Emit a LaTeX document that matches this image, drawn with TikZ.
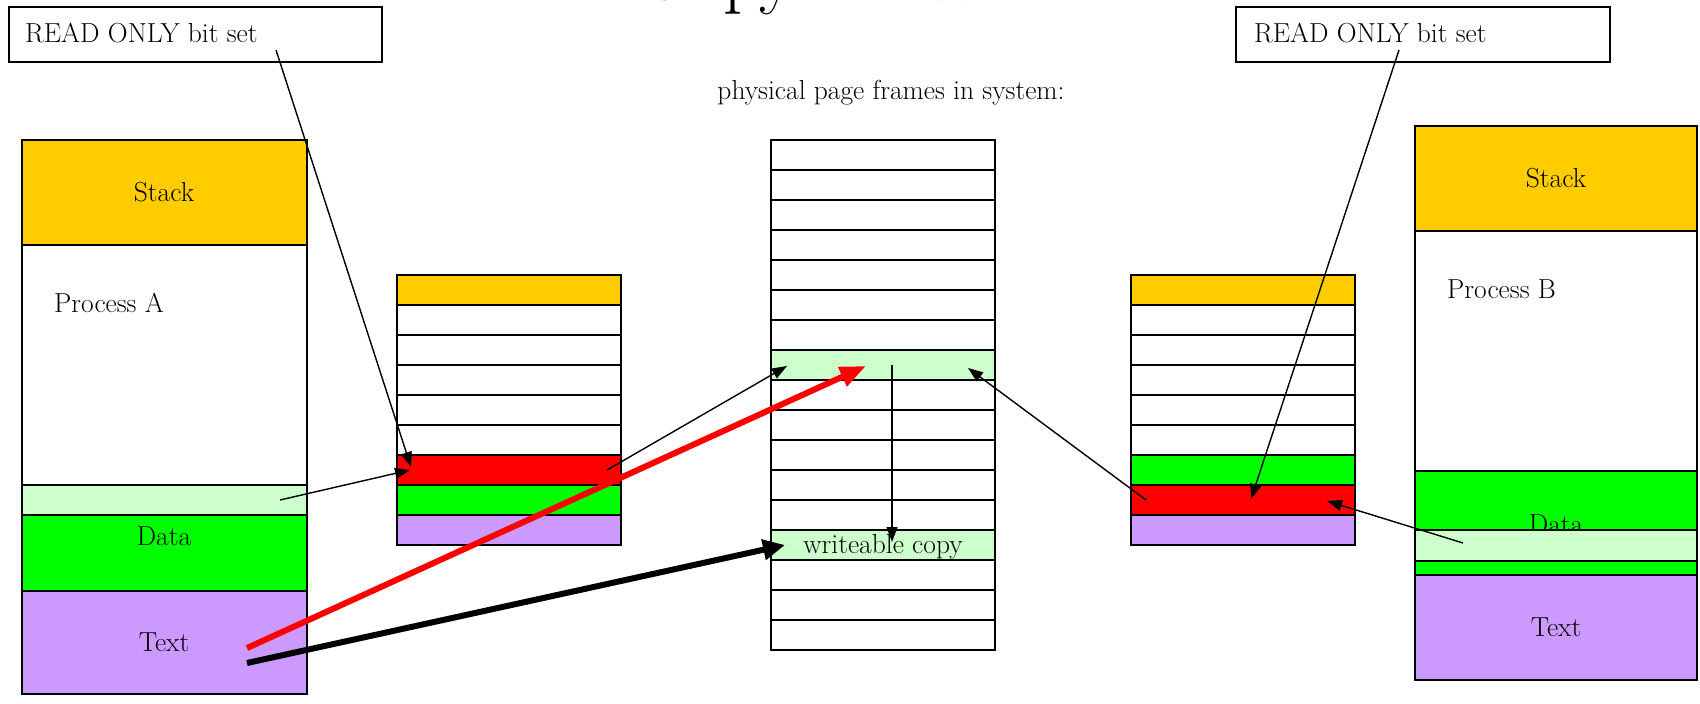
\documentclass[tikz,border=0pt]{standalone}
\usetikzlibrary{arrows.meta}
\definecolor{stackc}{RGB}{255,204,0}
\definecolor{datac}{RGB}{0,255,0}
\definecolor{lgc}{RGB}{204,255,204}
\definecolor{roc}{RGB}{255,0,0}
\definecolor{textc}{RGB}{204,153,255}
\tikzset{
  seg/.style={draw=black, line width=1.6pt, inner sep=0pt, outer sep=0pt, anchor=north west},
  lbl/.style={font=\fontsize{27.5}{33}\selectfont, inner sep=0pt, text=black},
  thinarrow/.style={line width=1.4pt, -{Triangle[length=15pt,width=11pt]}},
  redarrow/.style={draw=roc, line width=6pt, -{Triangle[length=26pt,width=20pt]}},
  blackarrow/.style={draw=black, line width=6pt, -{Triangle[length=22pt,width=20pt]}},
}
\begin{document}
\begin{tikzpicture}[x=1pt,y=-1pt]
\useasboundingbox (0,0) rectangle (1700,704);
\fill[white] (0,0) rectangle (1700,704);

% title (cut off at the top)
\node[font=\fontsize{76}{80}\selectfont, anchor=base, inner sep=0pt] (title) at (862,0) {Copy on Write};

% READ ONLY boxes
\node[seg, minimum width=373pt, minimum height=55pt] (roBoxA) at (9,7) {};
\node[lbl, anchor=base west] (roTextA) at (25,42) {READ ONLY bit set};
\node[seg, minimum width=374pt, minimum height=55pt] (roBoxB) at (1236,7) {};
\node[lbl, anchor=base west] (roTextB) at (1254,42) {READ ONLY bit set};

\node[lbl, anchor=base] (physL) at (891,99) {physical page frames in system:};

% Process A
\node[seg, fill=stackc, minimum width=285pt, minimum height=105pt] (aStack) at (22,140) {};
\node[seg, fill=white,  minimum width=285pt, minimum height=240pt] (aFree) at (22,245) {};
\node[seg, fill=lgc,    minimum width=285pt, minimum height=30pt]  (aLG) at (22,485) {};
\node[seg, fill=datac,  minimum width=285pt, minimum height=76pt]  (aData) at (22,515) {};
\node[seg, fill=textc,  minimum width=285pt, minimum height=103pt] (aText) at (22,591) {};
\node[lbl] (aStackL) at (164,192) {Stack};
\node[lbl, anchor=base west] (aProcL) at (54,312) {Process A};
\node[lbl, anchor=base] (aDataL) at (164,545) {Data};
\node[lbl] (aTextL) at (164,642) {Text};

% Page table A
\foreach \i/\c in {0/stackc,1/white,2/white,3/white,4/white,5/white,6/roc,7/datac,8/textc}
  \node[seg, fill=\c, minimum width=224pt, minimum height=30pt] (pa\i) at ({397},{275+30*\i}) {};

% Physical page frames
\foreach \i/\c in {0/white,1/white,2/white,3/white,4/white,5/white,6/white,7/lgc,8/white,9/white,10/white,11/white,12/white,13/lgc,14/white,15/white,16/white}
  \node[seg, fill=\c, minimum width=224pt, minimum height=30pt] (ph\i) at ({771},{140+30*\i}) {};
\node[lbl, anchor=base] (writeL) at (883,553) {writeable copy};

% Page table B
\foreach \i/\c in {0/stackc,1/white,2/white,3/white,4/white,5/white,6/datac,7/roc,8/textc}
  \node[seg, fill=\c, minimum width=224pt, minimum height=30pt] (pb\i) at ({1131},{275+30*\i}) {};

% Process B
\node[seg, fill=stackc, minimum width=282pt, minimum height=105pt] (bStack) at (1415,126) {};
\node[seg, fill=white,  minimum width=282pt, minimum height=240pt] (bFree) at (1415,231) {};
\node[seg, fill=datac,  minimum width=282pt, minimum height=59pt]  (bData) at (1415,471) {};
\node[lbl, anchor=base] (bDataL) at (1556,533) {Data};
\node[seg, fill=lgc,    minimum width=282pt, minimum height=31pt]  (bLG) at (1415,530) {};
\node[seg, fill=datac,  minimum width=282pt, minimum height=14pt]  (bData2) at (1415,561) {};
\node[seg, fill=textc,  minimum width=282pt, minimum height=105pt] (bText) at (1415,575) {};
\node[lbl] (bStackL) at (1556,178) {Stack};
\node[lbl, anchor=base west] (bProcL) at (1447,298) {Process B};
\node[lbl] (bTextL) at (1556,627) {Text};

% connector end points
\coordinate (roA) at (276,50);
\coordinate (paRedTip1) at (411,467);
\coordinate (aLGp) at (280,500);
\coordinate (paRedTip2) at (410,470);
\coordinate (paRedR) at (607,470);
\coordinate (phGL) at (787,366);
\coordinate (aTxt1) at (247,648);
\coordinate (phGM) at (866,366);
\coordinate (aTxt2) at (247,663);
\coordinate (phWL) at (785,545);
\coordinate (phGC) at (892,365);
\coordinate (phWC) at (892,542);
\coordinate (pbRedL) at (1146,500);
\coordinate (phGR) at (968,368);
\coordinate (roB) at (1399,50);
\coordinate (pbRedM) at (1251,499);
\coordinate (bLGp) at (1463,543);
\coordinate (pbRedR) at (1327,501);

% connectors
\draw[thinarrow] (roA) -- (paRedTip1);
\draw[thinarrow] (aLGp) -- (paRedTip2);
\draw[thinarrow] (paRedR) -- (phGL);
\draw[thinarrow] (phGC) -- (phWC);
\draw[thinarrow] (pbRedL) -- (phGR);
\draw[thinarrow] (roB) -- (pbRedM);
\draw[thinarrow] (bLGp) -- (pbRedR);
\draw[redarrow] (aTxt1) -- (phGM);
\draw[blackarrow] (aTxt2) -- (phWL);
\end{tikzpicture}
\end{document}
